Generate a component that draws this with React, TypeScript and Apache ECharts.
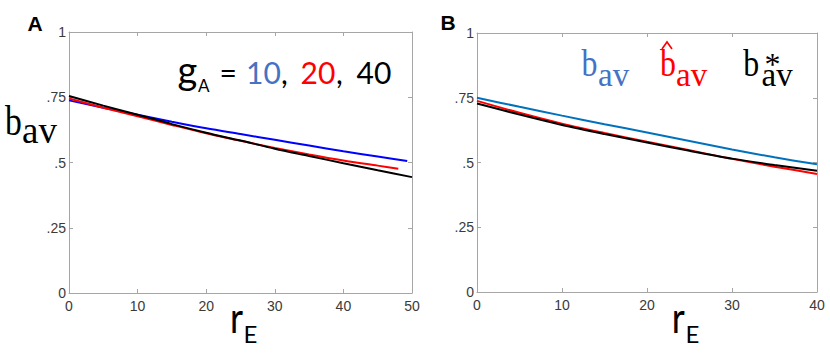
import React, { useEffect, useRef } from "react";
import * as echarts from "echarts";

// ---- Data ----
const yTicks = [0, 0.25, 0.5, 0.75, 1];
const yTickLabels = ["0", ".25", ".5", ".75", "1"];

// Panel A (g_A = 10, 20, 40)
const aBlueX = [0, 5, 10, 15, 20, 25, 30, 35, 40, 45, 49.3];
const aBlueY = [0.738, 0.71, 0.683, 0.656, 0.631, 0.609, 0.587, 0.565, 0.543, 0.523, 0.506];
const aRedX = [0, 5, 10, 15, 20, 25, 30, 35, 40, 45, 48];
const aRedY = [0.745, 0.71, 0.677, 0.644, 0.612, 0.583, 0.556, 0.531, 0.508, 0.488, 0.476];
const aBlackX = [0, 5, 10, 15, 20, 25, 30, 35, 40, 45, 50];
const aBlackY = [0.755, 0.718, 0.683, 0.647, 0.614, 0.584, 0.553, 0.525, 0.497, 0.47, 0.444];

// Panel B (b_av, b^_av, b*_av)
const bX = [0, 5, 10, 15, 20, 25, 30, 35, 40];
const bBlueY = [0.75, 0.715, 0.681, 0.648, 0.616, 0.583, 0.55, 0.52, 0.493];
const bRedY = [0.738, 0.692, 0.65, 0.614, 0.58, 0.547, 0.514, 0.484, 0.456];
const bBlackY = [0.728, 0.685, 0.645, 0.61, 0.577, 0.545, 0.515, 0.49, 0.468];

const zip = (xs: number[], ys: number[]) => xs.map((x, i) => [x, ys[i]]);

const AXIS_COLOR = "#a6a6a6";
const LABEL_COLOR = "#3a3a3a";
const TICK_FONT = "'Liberation Sans Narrow', 'Liberation Sans', sans-serif";
const SERIF = "'Liberation Serif', serif";
const SANS = "Lato, 'Open Sans', sans-serif";

function xAxes(gridIndex: number, max: number) {
  const common = {
    type: "value",
    gridIndex,
    min: 0,
    max,
    interval: 10,
    splitLine: { show: false },
    axisLine: { show: true, onZero: false, lineStyle: { color: AXIS_COLOR, width: 1 } },
    axisTick: { show: true, inside: true, length: 4, lineStyle: { color: AXIS_COLOR } },
  };
  return [
    {
      ...common,
      position: "bottom",
      axisLabel: { show: true, color: LABEL_COLOR, fontFamily: TICK_FONT, fontSize: 14, margin: 6 },
    },
    { ...common, position: "top", axisLabel: { show: false } },
  ];
}

function yAxes(gridIndex: number) {
  const common = {
    type: "value",
    gridIndex,
    min: 0,
    max: 1,
    interval: 0.25,
    splitLine: { show: false },
    axisLine: { show: true, onZero: false, lineStyle: { color: AXIS_COLOR, width: 1 } },
    axisTick: { show: true, inside: true, length: 4, lineStyle: { color: AXIS_COLOR } },
  };
  return [
    {
      ...common,
      position: "left",
      axisLabel: {
        show: true,
        color: LABEL_COLOR,
        fontFamily: TICK_FONT,
        fontSize: 14,
        margin: 3,
        formatter: (v: number) => {
          const i = yTicks.findIndex((t) => Math.abs(t - v) < 1e-9);
          return i >= 0 ? yTickLabels[i] : "";
        },
      },
    },
    { ...common, position: "right", axisLabel: { show: false } },
  ];
}

function line(data: number[][], color: string, xi: number, yi: number) {
  return {
    type: "line",
    data,
    xAxisIndex: xi,
    yAxisIndex: yi,
    showSymbol: false,
    symbol: "none",
    smooth: 0.3,
    lineStyle: { color, width: 2 },
    silent: true,
  };
}

// text helper: x left, baseline y, with central-baseline correction k
function txt(text: string, x: number, baseline: number, size: number, color: string, family: string, k: number, extra: any = {}) {
  return {
    type: "text",
    x,
    y: baseline - k * size,
    scaleX: extra.scaleX || 1,
    silent: true,
    style: {
      text,
      fill: color,
      font: `${extra.weight || "normal"} ${size}px ${family}`,
      align: extra.align || "left",
      verticalAlign: "middle",
      lineHeight: extra.lineHeight,
    },
  };
}

const KS = 0.3375; // Liberation Serif
const KL = 0.387; // Lato
const KA = 0.3465; // Liberation Sans

export default function App() {
  const ref = useRef<HTMLDivElement>(null);
  useEffect(() => {
    if (!ref.current) return;
    const chart = echarts.init(ref.current, undefined, { renderer: "svg" });
    const LB = "#4472c4";
    chart.setOption({
      animation: false,
      backgroundColor: "#ffffff",
      grid: [
        { left: 69, top: 32, width: 343, height: 261 },
        { left: 477, top: 33, width: 340, height: 259 },
      ],
      xAxis: [...xAxes(0, 50), ...xAxes(1, 40)],
      yAxis: [...yAxes(0), ...yAxes(1)],
      series: [
        line(zip(aBlueX, aBlueY), "#0000ff", 0, 0),
        line(zip(aRedX, aRedY), "#ff0000", 0, 0),
        line(zip(aBlackX, aBlackY), "#000000", 0, 0),
        line(zip(bX, bBlueY), "#0072bd", 2, 2),
        line(zip(bX, bRedY), "#ff0000", 2, 2),
        line(zip(bX, bBlackY), "#000000", 2, 2),
      ],
      graphic: [
        // panel letters
        txt("A", 35, 30.7, 21, "#000", "'Liberation Sans', Arial, sans-serif", KA, { weight: "bold", align: "center" }),
        txt("B", 448, 30, 21, "#000", "'Liberation Sans', Arial, sans-serif", KA, { weight: "bold", align: "center" }),
        // y label A
        txt("b", 5, 135, 42, "#000", SERIF, KS, { scaleX: 0.8 }),
        txt("av", 22, 143.3, 37, "#000", SERIF, KS),
        // g_A = 10, 20, 40
        txt("g", 177.5, 83.3, 38, "#000", SANS, KL),
        txt("A", 198, 91.7, 17, "#000", SANS, KL),
        txt("=", 219.5, 83.3, 30, "#000", SANS, KL),
        txt("10", 246, 83.3, 30, LB, SANS, KL),
        txt(",", 281, 83.3, 30, "#000", SANS, KL),
        txt("20", 300.5, 83.3, 30, "#ff0000", SANS, KL),
        txt(",", 336, 83.3, 30, "#000", SANS, KL),
        txt("40", 356.5, 83.3, 30, "#000", SANS, KL),
        // x labels
        txt("r", 230, 333.3, 42, "#000", SANS, KL, { scaleX: 0.85 }),
        txt("E", 243.5, 342.7, 24, "#000", SANS, KL),
        txt("r", 671.7, 333.3, 42, "#000", SANS, KL, { scaleX: 0.85 }),
        txt("E", 685.5, 342.7, 24, "#000", SANS, KL),
        // panel B legend labels
        txt("b", 581.5, 76, 38, LB, SERIF, KS, { scaleX: 0.84 }),
        txt("av", 598, 86, 33, LB, SERIF, KS),
        txt("b", 660, 76, 38, "#ff0000", SERIF, KS, { scaleX: 0.84 }),
        txt("av", 676, 86, 33, "#ff0000", SERIF, KS),
        {
          type: "polyline",
          silent: true,
          shape: { points: [[662, 49], [667, 42], [672, 49]] },
          style: { stroke: "#ff0000", lineWidth: 1.6, fill: "none" },
        },
        txt("b", 743.3, 76, 38, "#000", SERIF, KS, { scaleX: 0.84 }),
        txt("av", 761.5, 86, 33, "#000", SERIF, KS, { lineHeight: 14 }),
        txt("*", 764.5, 74.8, 32, "#000", SERIF, KS, { lineHeight: 6 }),
      ],
    });
    return () => chart.dispose();
  }, []);
  return (
    <div
      ref={ref}
      style={{ position: "absolute", left: 0, top: 0, width: 830, height: 355, background: "#fff" }}
    />
  );
}
